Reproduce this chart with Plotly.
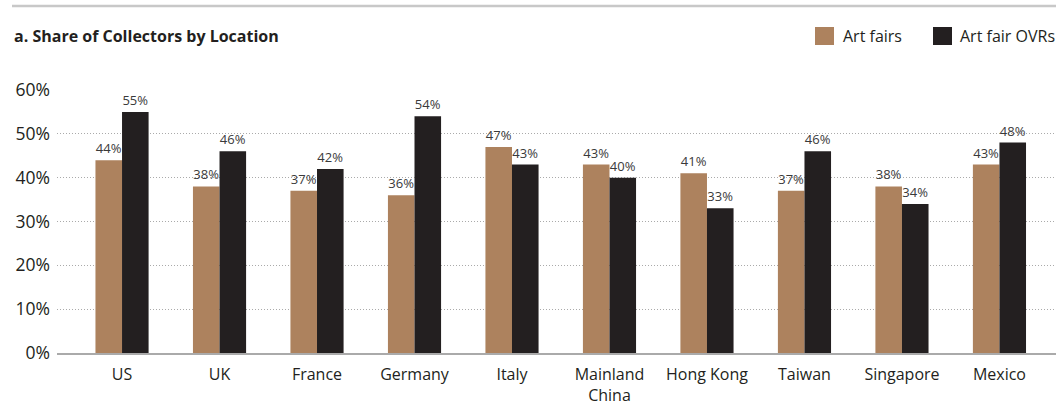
import plotly.graph_objects as go

categories = ["US", "UK", "France", "Germany", "Italy", "Mainland<br>China",
              "Hong Kong", "Taiwan", "Singapore", "Mexico"]
art_fairs = [44, 38, 37, 36, 47, 43, 41, 37, 38, 43]
art_fair_ovrs = [55, 46, 42, 54, 43, 40, 33, 46, 34, 48]
series_names = ["Art fairs", "Art fair OVRs"]
colors = ["#AD825E", "#231F20"]

W, H = 1056, 419
SL, ST, SB = 57, 90, 353          # plot left, top, bottom in pixels
L, T = SL, ST
B = H - SB
R = 0
pw, ph = W - L - R, H - T - B

def px(x):
    return (x - SL) / pw

def py(y):
    return (SB - y) / ph

FONT = "Open Sans"

fig = go.Figure()
for name, vals, col in zip(series_names, [art_fairs, art_fair_ovrs], colors):
    fig.add_trace(go.Bar(
        x=categories, y=vals, name=name, marker_color=col, marker_line_width=0,
        text=[f"{v}%" for v in vals], textposition="outside",
        textfont=dict(size=13, color="#3a3a3a", family=FONT), cliponaxis=False,
        showlegend=False,
    ))

annotations = [
    dict(text="<b>a. Share of Collectors by Location</b>", x=px(12), y=py(36),
         xref="paper", yref="paper", xanchor="left", yanchor="middle",
         showarrow=False, font=dict(size=16, color="#231F20", family=FONT)),
    dict(text=series_names[0], x=px(841), y=py(36), xref="paper", yref="paper",
         xanchor="left", yanchor="middle", showarrow=False,
         font=dict(size=16, color="#231F20", family=FONT)),
    dict(text=series_names[1], x=px(958), y=py(36), xref="paper", yref="paper",
         xanchor="left", yanchor="middle", showarrow=False,
         font=dict(size=16, color="#231F20", family=FONT)),
]
shapes = [
    dict(type="line", xref="paper", yref="paper", x0=px(12), x1=px(1056),
         y0=py(6), y1=py(6), line=dict(color="#c8c8c8", width=2.5)),
    dict(type="rect", xref="paper", yref="paper", x0=px(815), x1=px(834),
         y0=py(27), y1=py(45), fillcolor=colors[0], line_width=0),
    dict(type="rect", xref="paper", yref="paper", x0=px(933), x1=px(952),
         y0=py(27), y1=py(45), fillcolor=colors[1], line_width=0),
]

fig.update_layout(
    width=W, height=H, margin=dict(l=L, r=R, t=T, b=B, autoexpand=False),
    paper_bgcolor="white", plot_bgcolor="white",
    barmode="group", bargap=0.455, bargroupgap=0,
    font=dict(family=FONT, color="#231F20"),
    annotations=annotations, shapes=shapes,
    xaxis=dict(range=[-0.667, 9.58], showgrid=False, showline=True,
               linecolor="#aaaaaa", linewidth=1.5, ticks="",
               ticklabelstandoff=6,
               tickfont=dict(size=16, color="#231F20")),
    yaxis=dict(range=[0, 60], dtick=10, ticksuffix="%", showgrid=True,
               gridcolor="#aaaaaa", griddash="1px,2px", gridwidth=1,
               zeroline=False, showline=False, ticks="", ticklabelstandoff=6,
               tickfont=dict(size=17.5, color="#231F20")),
)

fig.write_html(
    "out.html",
    config={"displayModeBar": False},
    post_script="document.body.style.margin='0px';document.body.style.overflow='hidden';",
)
